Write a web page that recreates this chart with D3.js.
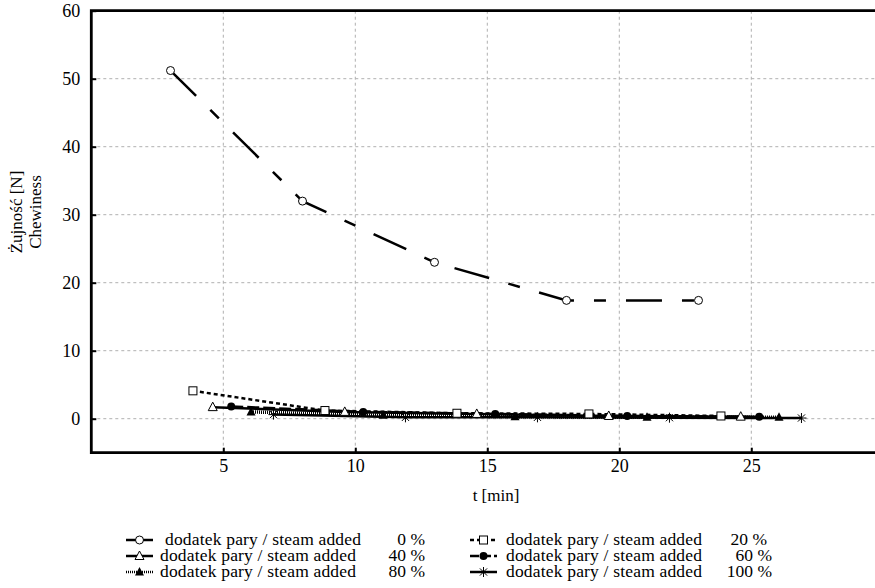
<!DOCTYPE html>
<html><head><meta charset="utf-8">
<script src="https://cdn.jsdelivr.net/npm/d3@7"></script>
<style>body{margin:0;background:#fff}svg{display:block}</style>
</head><body>
<svg id="c" width="875" height="588"></svg>
<script>
// ---- data ----
const xTicks = [5, 10, 15, 20, 25];
const yTicks = [0, 10, 20, 30, 40, 50, 60];
const seriesLabels = ["0 %", "20 %", "40 %", "60 %", "80 %", "100 %"];
const t0 = [3, 8, 13, 18, 23];
const v0 = [51.2, 32.0, 23.0, 17.4, 17.4];
const t20 = [3.85, 8.85, 13.85, 18.85, 23.85];
const v20 = [4.1, 1.2, 0.8, 0.7, 0.4];
const t40 = [4.6, 9.6, 14.6, 19.6, 24.6];
const v40 = [1.7, 1.0, 0.7, 0.4, 0.3];
const t60 = [5.3, 10.3, 15.3, 20.3, 25.3];
const v60 = [1.8, 1.0, 0.7, 0.4, 0.3];
const t80 = [6.05, 11.05, 16.05, 21.05, 26.05];
const v80 = [1.0, 0.5, 0.3, 0.2, 0.2];
const t100 = [6.9, 11.9, 16.9, 21.9, 26.9];
const v100 = [0.6, 0.2, 0.2, 0.15, 0.1];

const FONT = '"Liberation Serif", Tinos, "Times New Roman", Times, serif';

const series = [
  {t: t0, v: v0, marker: "circleOpen", dash: "36,20,12,20", w: 2.5},
  {t: t20, v: v20, marker: "squareOpen", dash: "4,3", w: 2.5},
  {t: t40, v: v40, marker: "triOpen", dash: null, w: 2.5},
  {t: t60, v: v60, marker: "circleFill", dash: "12,4", w: 2.5},
  {t: t80, v: v80, marker: "triFill", dash: "1,1", w: 3.5},
  {t: t100, v: v100, marker: "star", dash: null, w: 2.5}
];

const svg = d3.select("#c").attr("font-family", FONT);
const L = 91.3, T = 10.7, B = 452.7;
const x = d3.scaleLinear().domain([0, 30]).range([L, L + 26.4 * 30]);
const y = d3.scaleLinear().domain([-5, 60]).range([B, T]);

// grid
const g = svg.append("g");
g.selectAll(".gy").data(yTicks.filter(d => d < 60)).enter().append("line")
  .attr("x1", L).attr("x2", 875).attr("y1", d => y(d)).attr("y2", d => y(d))
  .attr("stroke", "#b0b0b0").attr("stroke-width", 1).attr("stroke-dasharray", "3,3");
g.selectAll(".gx").data(xTicks).enter().append("line")
  .attr("y1", T).attr("y2", B).attr("x1", d => x(d)).attr("x2", d => x(d))
  .attr("stroke", "#b0b0b0").attr("stroke-width", 1).attr("stroke-dasharray", "3,3");

// axes
const yAxis = d3.axisLeft(y).tickValues(yTicks).tickSize(-5).tickPadding(11).tickFormat(d3.format("d"));
const ya = svg.append("g").attr("transform", `translate(${L},0)`).call(yAxis);
const xAxis = d3.axisBottom(x).tickValues(xTicks).tickSize(-5).tickPadding(7).tickFormat(d3.format("d"));
const xa = svg.append("g").attr("transform", `translate(0,${B})`).call(xAxis);
[ya, xa].forEach(a => {
  a.attr("font-family", FONT).attr("font-size", 18);
  a.select(".domain").remove();
  a.selectAll(".tick line").attr("stroke", "#000").attr("stroke-width", 2);
  a.selectAll(".tick text").attr("fill", "#000");
});
// frame
svg.append("path").attr("d", `M875,${T}H${L}V${B}H875`).attr("fill", "none")
  .attr("stroke", "#000").attr("stroke-width", 2.8);

// titles
svg.append("text").attr("transform", "translate(22,212) rotate(-90)").attr("text-anchor", "middle")
  .attr("font-size", 17).text("Żujność [N]");
svg.append("text").attr("transform", "translate(41,212) rotate(-90)").attr("text-anchor", "middle")
  .attr("font-size", 17).text("Chewiness");
svg.append("text").attr("x", 496).attr("y", 501).attr("text-anchor", "middle")
  .attr("font-size", 17).text("t [min]");

function drawMarker(sel, type, cx, cy) {
  const s = sel.append("g").attr("transform", `translate(${cx},${cy})`);
  if (type === "circleOpen") s.append("circle").attr("r", 4).attr("fill", "#fff").attr("stroke", "#000").attr("stroke-width", 1);
  if (type === "circleFill") s.append("circle").attr("r", 4).attr("fill", "#000");
  if (type === "squareOpen") s.append("rect").attr("x", -4).attr("y", -4).attr("width", 8).attr("height", 8).attr("fill", "#fff").attr("stroke", "#000").attr("stroke-width", 1);
  if (type === "triOpen") s.append("path").attr("d", "M0,-5L4.5,3.5L-4.5,3.5Z").attr("fill", "#fff").attr("stroke", "#000").attr("stroke-width", 1);
  if (type === "triFill") s.append("path").attr("d", "M0,-5L4.5,3.5L-4.5,3.5Z").attr("fill", "#000");
  if (type === "star") {
    s.append("path").attr("d", "M-5,0H5M0,-5V5M-3.6,-3.6L3.6,3.6M-3.6,3.6L3.6,-3.6")
      .attr("stroke", "#000").attr("stroke-width", 1).attr("fill", "none");
  }
}

const line = d3.line().x(d => x(d[0])).y(d => y(d[1]));
const plot = svg.append("g");
series.forEach(s => {
  const pts = s.t.map((t, i) => [t, s.v[i]]);
  const p = plot.append("path").attr("d", line(pts)).attr("fill", "none")
    .attr("stroke", "#000").attr("stroke-width", s.w);
  if (s.dash) p.attr("stroke-dasharray", s.dash);
});
series.forEach(s => {
  s.t.forEach((t, i) => drawMarker(plot, s.marker, x(t), y(s.v[i])));
});

// legend
const legendPos = [
  {lx: 126, ty: 540, ts: 165, pr: 425},
  {lx: 470, ty: 540, ts: 506, pr: 767},
  {lx: 126, ty: 556, ts: 160, pr: 425},
  {lx: 470, ty: 556, ts: 506, pr: 772},
  {lx: 126, ty: 572, ts: 160, pr: 425},
  {lx: 470, ty: 572, ts: 506, pr: 772}
];
const lg = svg.append("g");
series.forEach((s, i) => {
  const p = legendPos[i];
  const ln = lg.append("line").attr("x1", p.lx).attr("x2", p.lx + 27).attr("y1", p.ty).attr("y2", p.ty)
    .attr("stroke", "#000").attr("stroke-width", 2.5);
  if (s.dash && i !== 0) ln.attr("stroke-dasharray", i === 4 ? "1,1" : (i === 1 ? "4,3" : "9,3"));
  drawMarker(lg, s.marker, p.lx + 13.5, p.ty);
  lg.append("text").attr("x", p.ts).attr("y", p.ty + 5).attr("font-size", 17.5)
    .attr("textLength", 196).attr("lengthAdjust", "spacing")
    .text("dodatek pary / steam added");
  lg.append("text").attr("x", p.pr).attr("y", p.ty + 5).attr("text-anchor", "end").attr("font-size", 17.5)
    .text(seriesLabels[i]);
});
</script>
</body></html>
